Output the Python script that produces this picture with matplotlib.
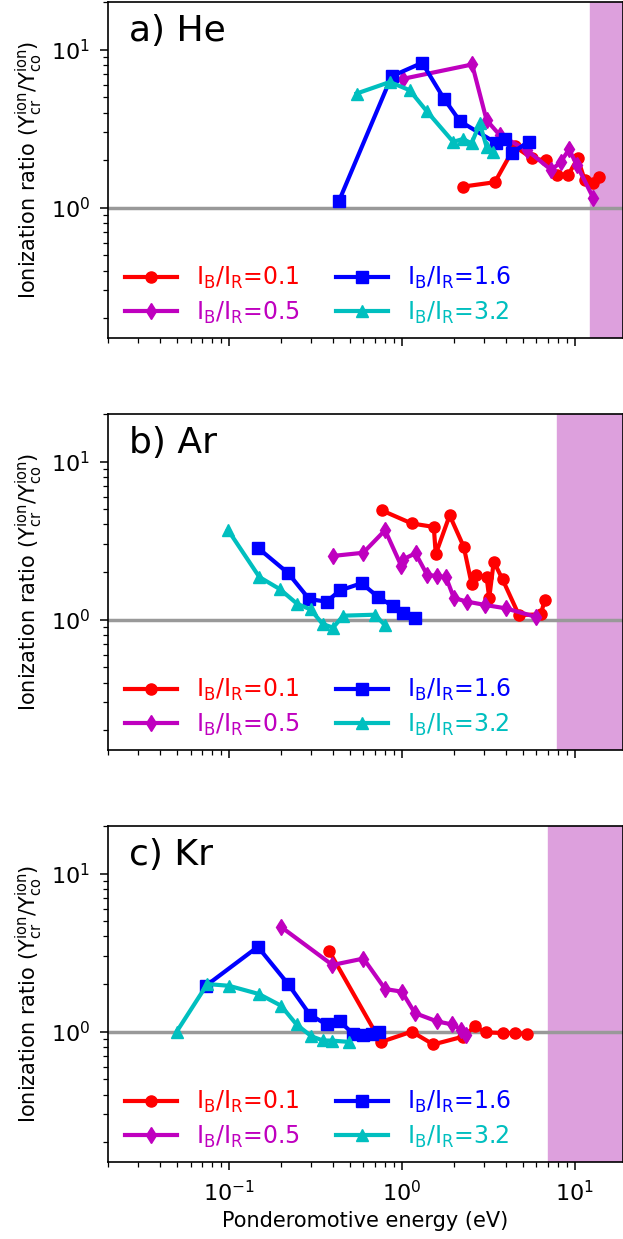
import numpy as np
import matplotlib
matplotlib.use('Agg')
import matplotlib.pyplot as plt

# a) He
he_x_01 = [2.26, 3.45, 4.5, 5.67, 6.86, 7.9, 9.15, 10.4, 11.4, 12.7, 13.8]
he_y_01 = [1.36, 1.45, 2.44, 2.05, 1.99, 1.61, 1.61, 2.05, 1.50, 1.43, 1.57]
he_x_05 = [1.02, 2.55, 3.09, 3.68, 5.26, 7.33, 8.3, 9.27, 10.3, 12.8]
he_y_05 = [6.54, 8.05, 3.58, 2.88, 2.32, 1.73, 1.95, 2.34, 1.85, 1.15]
he_x_16 = [0.434, 0.872, 1.31, 1.75, 2.17, 3.5, 3.94, 4.35, 5.4]
he_y_16 = [1.11, 6.77, 8.25, 4.9, 3.52, 2.57, 2.72, 2.22, 2.62]
he_x_32 = [0.547, 0.853, 1.11, 1.39, 1.98, 2.26, 2.53, 2.82, 3.09, 3.37]
he_y_32 = [5.27, 6.24, 5.53, 4.09, 2.61, 2.72, 2.55, 3.41, 2.43, 2.26]

# b) Ar
ar_x_01 = [0.763, 1.14, 1.53, 1.57, 1.89, 2.28, 2.53, 2.67, 3.09, 3.2, 3.4, 3.82, 4.75, 6.36, 6.7]
ar_y_01 = [4.92, 4.06, 3.86, 2.60, 4.57, 2.89, 1.69, 1.92, 1.86, 1.37, 2.33, 1.80, 1.07, 1.08, 1.33]
ar_x_05 = [0.40, 0.598, 0.80, 0.99, 1.01, 1.2, 1.4, 1.6, 1.8, 2.0, 2.39, 3.02, 3.98, 6.0]
ar_y_05 = [2.53, 2.65, 3.68, 2.2, 2.4, 2.63, 1.92, 1.89, 1.86, 1.37, 1.30, 1.24, 1.18, 1.04]
ar_x_16 = [0.148, 0.22, 0.291, 0.367, 0.438, 0.585, 0.73, 0.883, 1.02, 1.19]
ar_y_16 = [2.83, 1.97, 1.35, 1.30, 1.53, 1.70, 1.39, 1.22, 1.10, 1.02]
ar_x_32 = [0.099, 0.15, 0.197, 0.248, 0.297, 0.348, 0.40, 0.458, 0.70, 0.80]
ar_y_32 = [3.68, 1.86, 1.56, 1.26, 1.16, 0.94, 0.89, 1.06, 1.075, 0.92]

# c) Kr
kr_x_01 = [0.38, 0.756, 1.14, 1.52, 2.26, 2.64, 3.06, 3.82, 4.54, 5.3]
kr_y_01 = [3.23, 0.86, 1.0, 0.83, 0.93, 1.08, 0.99, 0.98, 0.98, 0.967]
kr_x_05 = [0.2, 0.397, 0.60, 0.80, 1.0, 1.19, 1.6, 1.96, 2.21, 2.34]
kr_y_05 = [4.6, 2.64, 2.9, 1.86, 1.79, 1.31, 1.16, 1.11, 1.03, 0.957]
kr_x_16 = [0.0736, 0.147, 0.22, 0.294, 0.367, 0.438, 0.524, 0.60, 0.668, 0.74]
kr_y_16 = [1.95, 3.44, 2.0, 1.28, 1.11, 1.16, 0.966, 0.957, 0.97, 1.0]
kr_x_32 = [0.0499, 0.075, 0.1, 0.149, 0.2, 0.246, 0.30, 0.348, 0.397, 0.497]
kr_y_32 = [1.0, 2.0, 1.95, 1.73, 1.46, 1.11, 0.935, 0.88, 0.877, 0.861]

paineis = [
    ('a) He', 12.2, [(he_x_01, he_y_01), (he_x_05, he_y_05), (he_x_16, he_y_16), (he_x_32, he_y_32)]),
    ('b) Ar', 7.9, [(ar_x_01, ar_y_01), (ar_x_05, ar_y_05), (ar_x_16, ar_y_16), (ar_x_32, ar_y_32)]),
    ('c) Kr', 7.0, [(kr_x_01, kr_y_01), (kr_x_05, kr_y_05), (kr_x_16, kr_y_16), (kr_x_32, kr_y_32)]),
]
razoes = ['0.1', '0.5', '1.6', '3.2']
cores = ['r', 'm', 'b', 'c']
marcadores = ['o', 'd', 's', '^']

fig = plt.figure(figsize=(6.23, 12.39), dpi=100)
bases = [0.7272, 0.3947, 0.0622]

for i, (titulo, inicio_rosa, series) in enumerate(paineis):
    ax = fig.add_axes([0.1734, bases[i], 0.8266, 0.2712])
    ax.set_xscale('log')
    ax.set_yscale('log')
    ax.axvspan(inicio_rosa, 100, color='plum', zorder=0)
    ax.axhline(1.0, color='#999999', lw=2.5, zorder=1)
    for (x, y), r, c, m in zip(series, razoes, cores, marcadores):
        ax.plot(x, y, color=c, marker=m, lw=3, markersize=8,
                label=r'$\mathrm{I_B/I_R}$=' + r, zorder=2)
    ax.set_xlim(0.02, 19)
    ax.set_ylim(0.15, 20)
    ax.text(0.04, 0.965, titulo, transform=ax.transAxes, fontsize=26,
            va='top', ha='left')
    ax.set_ylabel(r'Ionization ratio ($\mathrm{Y^{ion}_{cr}/Y^{ion}_{co}}$)', fontsize=15)
    ax.tick_params(labelsize=16)
    ax.tick_params(which='major', length=6, pad=7, width=1.1)
    ax.tick_params(which='minor', length=3.5, width=0.9)
    for s in ax.spines.values():
        s.set_linewidth(1.2)
    leg = ax.legend(loc='lower left', ncol=2, frameon=False, fontsize=17,
                    handlelength=2.2, labelcolor='linecolor',
                    borderaxespad=0.12, columnspacing=1.5,
                    labelspacing=0.35, bbox_to_anchor=(0.01, 0.0))
    if i < 2:
        ax.tick_params(labelbottom=False)
    else:
        ax.set_xlabel('Ponderomotive energy (eV)', fontsize=15)

fig.savefig('out.png', dpi=100)
